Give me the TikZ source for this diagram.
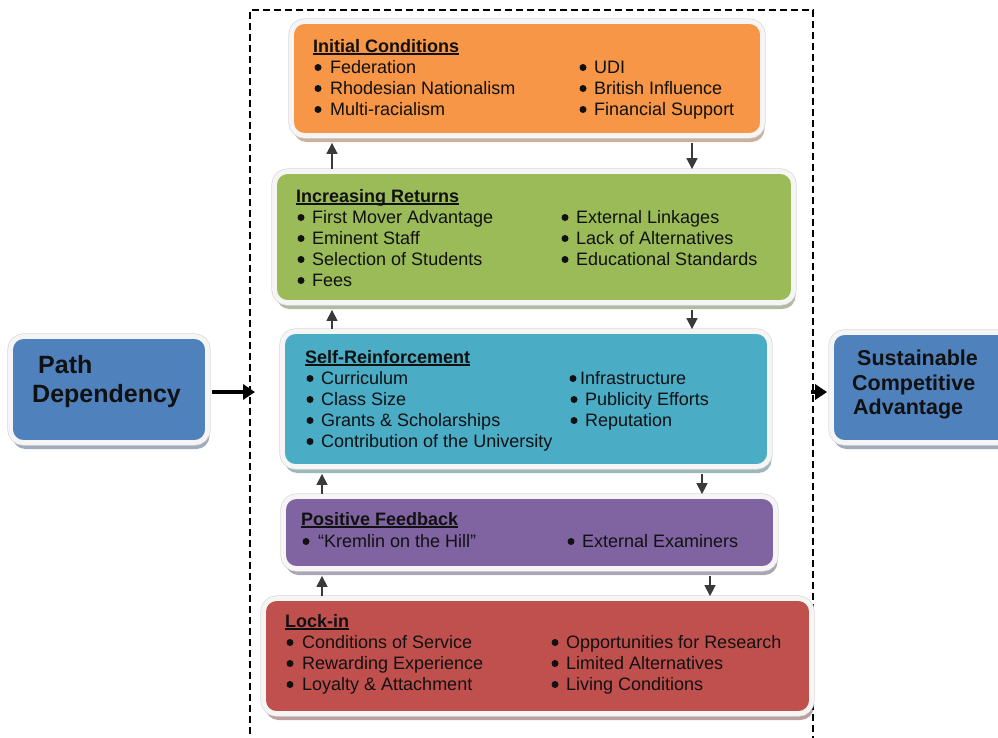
\documentclass[tikz,border=0pt]{standalone}
\usepackage{fontspec}
\setmainfont{Liberation Sans}
\usetikzlibrary{arrows.meta,shadows}

\definecolor{icol}{HTML}{F79646}
\definecolor{gcol}{HTML}{9BBB59}
\definecolor{tcol}{HTML}{4BACC6}
\definecolor{pcol}{HTML}{8064A2}
\definecolor{rcol}{HTML}{C0504D}
\definecolor{bcol}{HTML}{4F81BD}
\definecolor{ink}{HTML}{111111}
\definecolor{arrowgray}{HTML}{3A3A3A}

% underlined heading with the rule close to the baseline
\newcommand\ulhead[1]{\setbox0\hbox{#1}\rlap{\rule[-2.6pt]{\wd0}{1.4pt}}\box0}

% one column of bulleted lines: name, bullet x, text x, first baseline, items
\newcommand\itemcol[5]{%
  \foreach \t [count=\i from 0] in {#5}{
    \fill[ink] (#2,#4+21*\i-5.5) circle (3.5pt);
    \node[itemtext] (#1\i) at (#3,#4+21*\i) {\t};
  }}

\tikzset{
  panel/.style={rounded corners=13pt, fill=#1, inner sep=0pt,
    drop shadow={shadow xshift=2pt, shadow yshift=-6.5pt, fill=#1!55!black, opacity=0.45},
    preaction={draw=gray!30, line width=6.2pt},
    draw=white!96!black, line width=4.8pt},
  itemtext/.style={anchor=base west, inner sep=0pt, text=ink,
    font=\fontsize{18pt}{21pt}\selectfont},
  headtext/.style={itemtext, font=\fontsize{18pt}{21pt}\selectfont\bfseries},
  sidetext/.style={anchor=base west, inner sep=0pt, text=ink, font=\bfseries},
  link/.style={draw=arrowgray, line width=1.4pt, -{Triangle[width=11pt,length=11pt]}},
  bigarrow/.style={draw=black, line width=3.8pt, -{Triangle[width=15pt,length=12pt]}},
  frame/.style={draw=black, line width=1.3pt, dash pattern=on 7pt off 4pt},
}

\begin{document}
\begin{tikzpicture}[x=1pt, y=-1pt]
\useasboundingbox (0,0) rectangle (998,737);

% dashed enclosure
\coordinate (f1) at (250,745);
\coordinate (f2) at (250,10);
\coordinate (f3) at (813,10);
\coordinate (f4) at (813,745);
\draw[frame] (f1) -- (f2) -- (f3) -- (f4);

% panels
\node[panel=icol, minimum width=471pt, minimum height=114pt] (ic) at (527,78.5) {};
\node[panel=gcol, minimum width=519pt, minimum height=131pt] (ir) at (534,237) {};
\node[panel=tcol, minimum width=487pt, minimum height=135pt] (sr) at (526,399) {};
\node[panel=pcol, minimum width=492pt, minimum height=72pt] (pf) at (529.5,532.5) {};
\node[panel=rcol, minimum width=548pt, minimum height=115pt] (li) at (537.5,656) {};
\node[panel=bcol, minimum width=197pt, minimum height=106pt] (pd) at (109,389.5) {};
\node[panel=bcol, minimum width=181pt, minimum height=110pt] (sca) at (922,387.5) {};

% Initial Conditions
\node[headtext] (ic-h) at (313,52) {\ulhead{Initial Conditions}};
\itemcol{icl}{318}{330}{73}{Federation, Rhodesian Nationalism, Multi-racialism}
\itemcol{icr}{583}{594}{73}{UDI, British Influence, Financial Support}

% Increasing Returns
\node[headtext] (ir-h) at (296,202) {\ulhead{Increasing Returns}};
\itemcol{irl}{301}{312}{223}{First Mover Advantage, Eminent Staff, Selection of Students, Fees}
\itemcol{irr}{565}{576}{223}{External Linkages, Lack of Alternatives, Educational Standards}

% Self-Reinforcement
\node[headtext] (sr-h) at (305,363) {\ulhead{Self-Reinforcement}};
\itemcol{srl}{310}{321}{384}{Curriculum, Class Size, Grants \& Scholarships, Contribution of the University}
\fill[ink] (573,378.5) circle (3.5pt);
\node[itemtext] (srr0) at (580,384) {Infrastructure};
\itemcol{srr}{574}{585}{405}{Publicity Efforts, Reputation}

% Positive Feedback
\node[headtext] (pf-h) at (301,525) {\ulhead{Positive Feedback}};
\itemcol{pfl}{306}{318}{547}{“Kremlin on the Hill”}
\itemcol{pfr}{571}{582}{547}{External Examiners}

% Lock-in
\node[headtext] (li-h) at (285,627) {\ulhead{Lock-in}};
\itemcol{lil}{290}{302}{648}{Conditions of Service, Rewarding Experience, Loyalty \& Attachment}
\itemcol{lir}{555}{566}{648}{Opportunities for Research, Limited Alternatives, Living Conditions}

% side panels
\node[sidetext, font=\fontsize{25pt}{29pt}\selectfont\bfseries] (pd-a) at (38,373) {Path};
\node[sidetext, font=\fontsize{25pt}{29pt}\selectfont\bfseries] (pd-b) at (32,402) {Dependency};
\node[sidetext, font=\fontsize{21.5pt}{25pt}\selectfont\bfseries] (sca-a) at (857,365) {Sustainable};
\node[sidetext, font=\fontsize{21.5pt}{25pt}\selectfont\bfseries] (sca-b) at (852,390) {Competitive};
\node[sidetext, font=\fontsize{21.5pt}{25pt}\selectfont\bfseries] (sca-c) at (853,414) {Advantage};

% feedback loop connectors
\coordinate (xl1) at (332,0);
\coordinate (xl2) at (322,0);
\coordinate (xr1) at (692,0);
\coordinate (xr2) at (702,0);
\coordinate (xr3) at (710,0);
\draw[link, shorten >=5pt] (ir.north -| xl1) -- (ic.south -| xl1);
\draw[link, shorten <=5pt] (ic.south -| xr1) -- (ir.north -| xr1);
\draw[link, shorten >=5pt] (sr.north -| xl1) -- (ir.south -| xl1);
\draw[link, shorten <=5pt] (ir.south -| xr1) -- (sr.north -| xr1);
\draw[link, shorten >=5pt] (pf.north -| xl2) -- (sr.south -| xl2);
\draw[link, shorten <=5pt] (sr.south -| xr2) -- (pf.north -| xr2);
\draw[link, shorten >=5pt] (li.north -| xl2) -- (pf.south -| xl2);
\draw[link, shorten <=5pt] (pf.south -| xr3) -- (li.north -| xr3);

% entry and exit arrows
\coordinate (pdtip) at (255,392);
\coordinate (scatail) at (811,392);
\draw[bigarrow, shorten <=2pt] (pdtip -| pd.east) -- (pdtip);
\draw[bigarrow, shorten >=2pt] (scatail) -- (scatail -| sca.west);
\end{tikzpicture}
\end{document}
